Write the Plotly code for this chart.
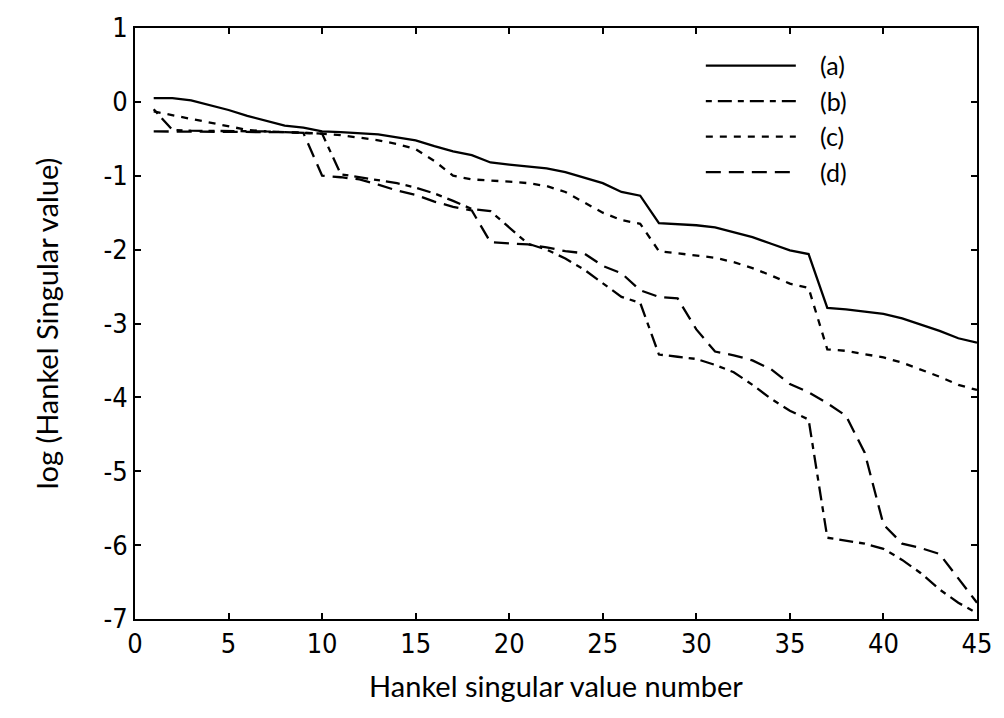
import plotly.graph_objects as go

x_vals = list(range(1, 46))

series_a = [0.05, 0.05, 0.02, -0.04, -0.11, -0.19, -0.26, -0.32, -0.35, -0.40,
            -0.41, -0.42, -0.44, -0.48, -0.52, -0.60, -0.67, -0.72, -0.82, -0.85,
            -0.87, -0.90, -0.95, -1.02, -1.10, -1.22, -1.27, -1.64, -1.65, -1.67,
            -1.70, -1.76, -1.83, -1.92, -2.01, -2.06, -2.79, -2.81, -2.84, -2.87,
            -2.93, -3.01, -3.10, -3.20, -3.26]

series_b = [-0.10, -0.38, -0.39, -0.39, -0.40, -0.40, -0.40, -0.41, -0.42, -0.43,
            -0.98, -1.02, -1.06, -1.10, -1.16, -1.24, -1.34, -1.45, -1.48, -1.70,
            -1.92, -2.00, -2.12, -2.27, -2.45, -2.64, -2.72, -3.42, -3.45, -3.48,
            -3.56, -3.66, -3.83, -4.02, -4.18, -4.30, -5.90, -5.94, -5.98, -6.05,
            -6.20, -6.38, -6.60, -6.78, -6.92]

series_c = [-0.13, -0.18, -0.22, -0.27, -0.33, -0.38, -0.40, -0.41, -0.42, -0.43,
            -0.45, -0.48, -0.52, -0.57, -0.64, -0.80, -1.00, -1.05, -1.06, -1.08,
            -1.10, -1.14, -1.22, -1.36, -1.50, -1.60, -1.65, -2.02, -2.05, -2.08,
            -2.11, -2.17, -2.25, -2.35, -2.46, -2.52, -3.35, -3.37, -3.41, -3.46,
            -3.53, -3.62, -3.72, -3.83, -3.90]

series_d = [-0.40, -0.40, -0.40, -0.40, -0.40, -0.40, -0.41, -0.41, -0.42, -1.00,
            -1.02, -1.05, -1.12, -1.20, -1.26, -1.35, -1.42, -1.47, -1.90, -1.92,
            -1.93, -1.97, -2.02, -2.05, -2.22, -2.32, -2.55, -2.64, -2.66, -3.08,
            -3.38, -3.43, -3.50, -3.62, -3.82, -3.93, -4.08, -4.25, -4.75, -5.72,
            -5.98, -6.04, -6.12, -6.45, -6.78]

names = ["(a)", "(b)", "(c)", "(d)"]
dashes = ["solid", "6px,6px,14px,6px", "7px,7px", "15px,8px"]
all_series = [series_a, series_b, series_c, series_d]

x_ticks = list(range(0, 46, 5))
y_ticks = list(range(-7, 2))

fig = go.Figure()
for name, ys, dash in zip(names, all_series, dashes):
    fig.add_trace(go.Scatter(x=x_vals, y=ys, mode="lines", name="\u00a0\u00a0\u00a0" + name,
                             line=dict(color="black", width=2.3, dash=dash)))

tick_font = "Liberation Sans Narrow, DejaVu Sans Condensed, Liberation Sans, sans-serif"
title_font = "Lato, Liberation Sans, sans-serif"

fig.update_layout(
    width=1004, height=718,
    paper_bgcolor="white", plot_bgcolor="white",
    margin=dict(l=135, r=18, t=20, b=99),
    font=dict(family=tick_font, color="black", size=25),
    showlegend=True,
    legend=dict(x=0.672, y=0.975, xanchor="left", yanchor="top",
                bgcolor="rgba(0,0,0,0)", font=dict(size=25, family=title_font),
                itemwidth=90, tracegroupgap=0),
)

fig.update_xaxes(range=[0, 45], tickvals=x_ticks, ticktext=[str(v) for v in x_ticks],
                 tickfont=dict(size=27, family=tick_font),
                 ticks="inside", ticklen=6, tickwidth=1.5, tickcolor="black",
                 showline=True, linecolor="black", linewidth=2, mirror="ticks",
                 showgrid=False, zeroline=False,
                 title=dict(text="Hankel singular value number",
                            font=dict(size=29, family=title_font), standoff=18))
fig.update_yaxes(range=[-7, 1], tickvals=y_ticks, ticktext=[str(v) for v in y_ticks],
                 tickfont=dict(size=27, family=tick_font),
                 ticks="inside", ticklen=6, tickwidth=1.5, tickcolor="black",
                 showline=True, linecolor="black", linewidth=2, mirror="ticks",
                 showgrid=False, zeroline=False,
                 title=dict(text="log (Hankel Singular value)",
                            font=dict(size=29, family=title_font), standoff=36))

fig.write_html("out.html")
